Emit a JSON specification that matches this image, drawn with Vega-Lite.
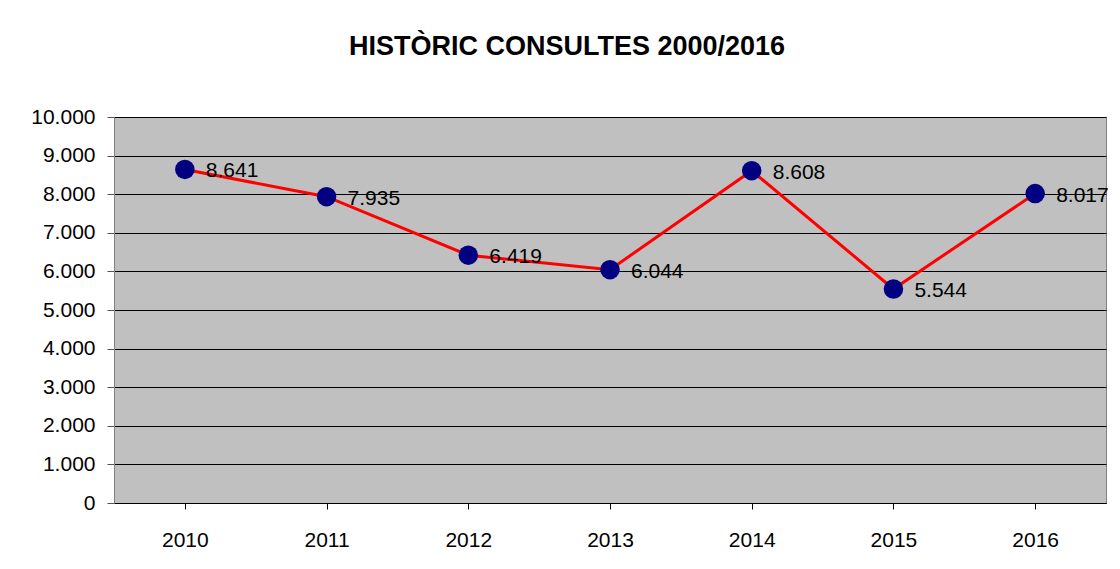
{
  "$schema": "https://vega.github.io/schema/vega-lite/v6.json",
  "autosize": {"type": "none"},
  "width": 992,
  "height": 386,
  "padding": {"left": 114, "top": 117, "right": 14, "bottom": 66},
  "background": "#ffffff",
  "title": {
    "text": "HISTÒRIC CONSULTES 2000/2016",
    "font": "Liberation Sans",
    "fontSize": 27,
    "fontWeight": "bold",
    "color": "#000000",
    "anchor": "middle",
    "dx": -43,
    "baseline": "alphabetic",
    "offset": 24
  },
  "config": {
    "locale": {"number": {"decimal": ",", "thousands": ".", "grouping": [3], "currency": ["", " €"]}},
    "view": {"fill": "#C0C0C0", "stroke": "#808080", "strokeWidth": 1},
    "font": "Liberation Sans"
  },
  "data": {
    "values": [
      {"any": "2010", "consultes": 8641},
      {"any": "2011", "consultes": 7935},
      {"any": "2012", "consultes": 6419},
      {"any": "2013", "consultes": 6044},
      {"any": "2014", "consultes": 8608},
      {"any": "2015", "consultes": 5544},
      {"any": "2016", "consultes": 8017}
    ]
  },
  "encoding": {
    "x": {
      "field": "any",
      "type": "ordinal",
      "scale": {"paddingInner": 0, "paddingOuter": 0},
      "axis": {
        "title": null,
        "labelAngle": 0,
        "labelFont": "Liberation Sans",
        "labelFontSize": 21,
        "labelColor": "#000000",
        "labelPadding": 20,
        "bandPosition": 0,
        "tickSize": 6,
        "tickColor": "#000000",
        "domainColor": "#000000",
        "grid": false
      }
    },
    "y": {
      "field": "consultes",
      "type": "quantitative",
      "scale": {"domain": [0, 10000], "nice": false},
      "axis": {
        "title": null,
        "values": [0, 1000, 2000, 3000, 4000, 5000, 6000, 7000, 8000, 9000, 10000],
        "format": ",d",
        "labelFont": "Liberation Sans",
        "labelFontSize": 21,
        "labelColor": "#000000",
        "labelPadding": 12,
        "tickSize": 7,
        "tickColor": "#555555",
        "domainColor": "#808080",
        "grid": true,
        "gridColor": "#000000",
        "gridOpacity": 1,
        "gridWidth": 1
      }
    }
  },
  "layer": [
    {"mark": {"type": "line", "color": "#FF0000", "strokeWidth": 3}},
    {"mark": {"type": "point", "filled": true, "color": "#000080", "opacity": 1, "size": 380}},
    {
      "mark": {"type": "text", "align": "left", "baseline": "middle", "dx": 21, "dy": 2, "font": "Liberation Sans", "fontSize": 21, "color": "#000000"},
      "encoding": {"text": {"field": "consultes", "type": "quantitative", "format": ",d"}}
    }
  ]
}
